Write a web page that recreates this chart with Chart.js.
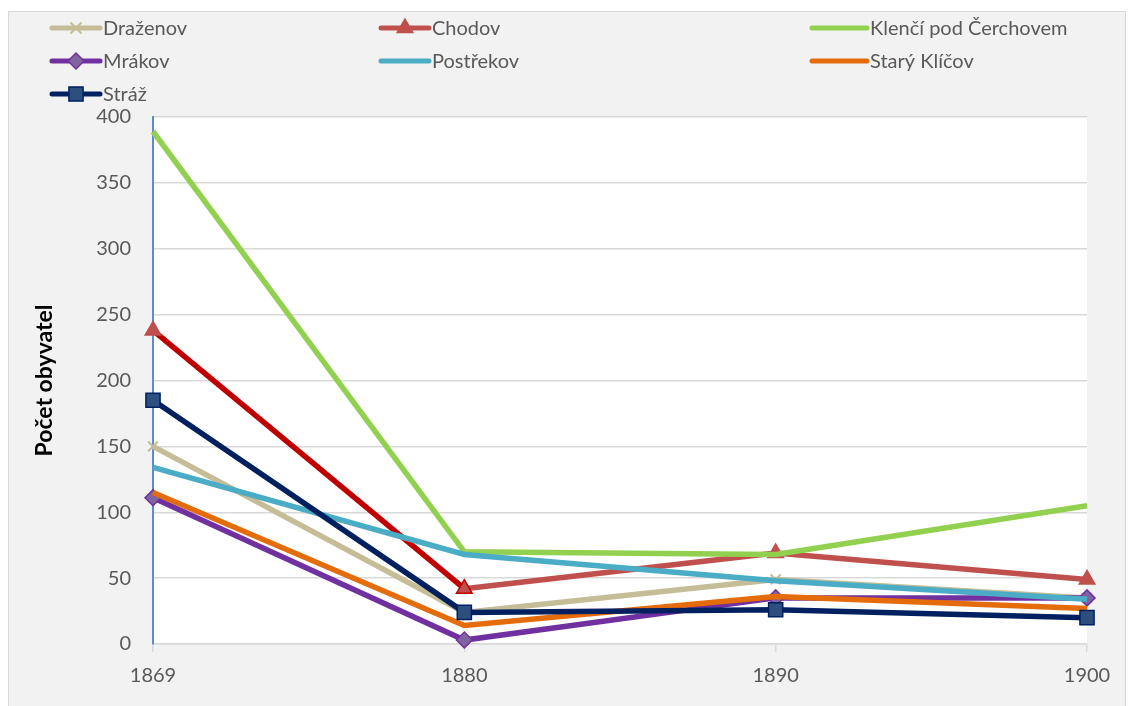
<!DOCTYPE html>
<html>
<head>
<meta charset="utf-8">
<script src="https://cdn.jsdelivr.net/npm/chart.js@4.4.1/dist/chart.umd.min.js"></script>
<style>
  body { margin: 0; background: #fff; }
  #panel { position: absolute; left: 8px; top: 11px; width: 1116px; height: 720px;
           background: #f2f2f2; border: 1px solid #d9d9d9; }
  #chart { position: absolute; left: 0; top: 0; }
</style>
</head>
<body>
<div id="panel"></div>
<canvas id="chart" width="1132" height="706"></canvas>
<script>
// Census years and population per village
const years = ['1869', '1880', '1890', '1900'];
const drazenov = [150, 24, 49, 35];
const chodov = [238, 42, 69, 49];
const klenci = [389, 70, 68, 105];
const mrakov = [111, 3, 35, 35];
const postrekov = [134, 68, 48, 34];
const staryKlicov = [115, 14, 36, 27];
const straz = [185, 24, 26, 20];

const FONT = 'Lato';
const GREY_TEXT = '#595959';

// white plot area on the grey chart panel
const plotBg = {
    id: 'plotBg',
    beforeDraw(chart) {
        const a = chart.chartArea;
        chart.ctx.save();
        chart.ctx.fillStyle = '#ffffff';
        chart.ctx.fillRect(a.left, a.top, a.right - a.left, a.bottom - a.top);
        chart.ctx.restore();
    }
};

// Excel-like legend laid out in three fixed columns
const gridLegend = {
    id: 'gridLegend',
    afterDraw(chart) {
        const ctx = chart.ctx;
        const cols = [[52, 100], [381, 429], [812, 867]];
        const rows = [28, 61, 94];
        chart.data.datasets.forEach((ds, i) => {
            const [x0, x1] = cols[i % 3];
            const y = rows[Math.floor(i / 3)];
            ctx.save();
            ctx.strokeStyle = ds.borderColor;
            ctx.lineWidth = 5;
            ctx.lineCap = 'round';
            ctx.beginPath();
            ctx.moveTo(x0, y);
            ctx.lineTo(x1, y);
            ctx.stroke();
            if (ds.pointRadius > 0) {
                ctx.fillStyle = ds.pointBackgroundColor;
                ctx.strokeStyle = Array.isArray(ds.pointBorderColor) ? ds.pointBorderColor[0] : ds.pointBorderColor;
                ctx.lineWidth = ds.pointBorderWidth;
                Chart.helpers.drawPoint(ctx, {
                    pointStyle: ds.pointStyle,
                    radius: ds.pointRadius,
                    rotation: 0,
                    borderWidth: ds.pointBorderWidth
                }, (x0 + x1) / 2, y);
            }
            ctx.fillStyle = GREY_TEXT;
            ctx.font = '20px ' + FONT;
            ctx.textBaseline = 'middle';
            ctx.textAlign = 'left';
            ctx.fillText(ds.label, x1 + 3, y + 1);
            ctx.restore();
        });
    }
};

function series(label, data, color, extra) {
    return Object.assign({
        label: label,
        data: data,
        borderColor: color,
        backgroundColor: color,
        borderWidth: 5.5,
        pointRadius: 0,
        pointHoverRadius: 0,
        tension: 0,
        clip: false
    }, extra || {});
}

const datasets = [
    series('Draženov', drazenov, '#c4bd97', {
        pointStyle: 'crossRot', pointRadius: 7, pointBorderWidth: 2,
        pointBackgroundColor: '#c4bd97', pointBorderColor: '#c4bd97'
    }),
    series('Chodov', chodov, '#c0504d', {
        pointStyle: 'triangle', pointRadius: 9, pointBorderWidth: 1.5,
        pointBackgroundColor: '#c0504d',
        pointBorderColor: ['#c0504d', '#c00000', '#c0504d', '#c0504d'],
        segment: { borderColor: c => c.p0DataIndex === 0 ? '#c00000' : '#c0504d' }
    }),
    series('Klenčí pod Čerchovem', klenci, '#92d050'),
    series('Mrákov', mrakov, '#7030a0', {
        pointStyle: 'rectRot', pointRadius: 8, pointBorderWidth: 1.5,
        pointBackgroundColor: '#8064a2', pointBorderColor: '#7030a0'
    }),
    series('Postřekov', postrekov, '#4bacc6'),
    series('Starý Klíčov', staryKlicov, '#e46c0a'),
    series('Stráž', straz, '#002060', {
        pointStyle: 'rect', pointRadius: 10, pointBorderWidth: 1.5,
        pointBackgroundColor: '#2c4f7f', pointBorderColor: '#002060'
    })
];
// later series are painted on top, like in Excel
datasets.forEach((ds, i) => { ds.order = datasets.length - i; });

new Chart(document.getElementById('chart'), {
    type: 'line',
    data: { labels: years, datasets: datasets },
    options: {
        responsive: false,
        animation: false,
        events: [],
        layout: { padding: { top: 117, right: 45, bottom: 0, left: 0 } },
        plugins: {
            legend: { display: false },
            tooltip: { enabled: false }
        },
        scales: {
            x: {
                offset: false,
                afterFit(scale) { scale.height = 62; },
                grid: { drawOnChartArea: false, drawTicks: true, tickLength: 8, color: '#d9d9d9', lineWidth: 1.5 },
                border: { color: '#d9d9d9', width: 1.5 },
                ticks: { color: GREY_TEXT, font: { family: FONT, size: 20 }, padding: 12, maxRotation: 0 }
            },
            y: {
                min: 0,
                max: 400,
                afterFit(scale) { scale.width = 153; },
                ticks: { stepSize: 50, color: GREY_TEXT, font: { family: FONT, size: 20 }, padding: 22 },
                grid: { drawTicks: false, color: '#d9d9d9', lineWidth: 1.5 },
                border: { color: '#5b8bd0', width: 2 },
                title: {
                    display: true,
                    text: 'Počet obyvatel',
                    color: '#000000',
                    font: { family: FONT, size: 23, weight: 'bold' },
                    padding: { top: 31, bottom: 0 }
                }
            }
        }
    },
    plugins: [plotBg, gridLegend]
});
</script>
</body>
</html>
